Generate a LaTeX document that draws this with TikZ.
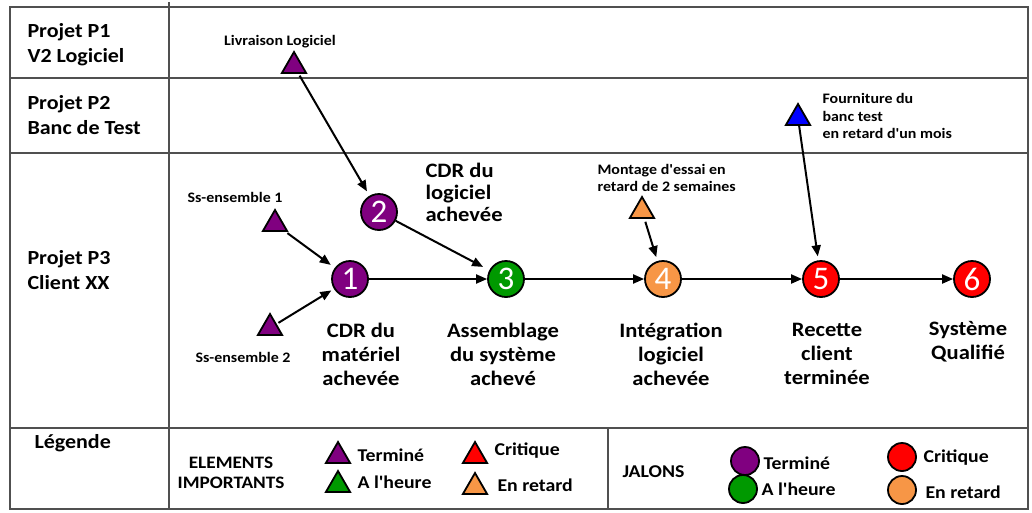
\documentclass[tikz,border=0pt]{standalone}
\usepackage{fontspec}
\setmainfont{Carlito}[Ligatures=TeXOff, FakeStretch=1.1]
\newfontfamily\digitfont{Carlito}[Ligatures=TeXOff]
\usetikzlibrary{shapes.geometric,arrows.meta}
\definecolor{cpurple}{RGB}{128,0,128}
\definecolor{cgreen}{RGB}{0,153,0}
\definecolor{cred}{RGB}{255,0,0}
\definecolor{corange}{RGB}{247,150,70}
\definecolor{cblue}{RGB}{0,0,255}
\definecolor{gridc}{RGB}{80,80,80}
\begin{document}
\begin{tikzpicture}[x=1pt,y=-1pt,
  grid/.style={draw=gridc, line width=1.3pt},
  ms/.style={circle, draw=black, line width=1.8pt, minimum size=36pt, inner sep=0pt, text=white, font=\digitfont\fontsize{33}{33}\selectfont},
  tri/.style={regular polygon, regular polygon sides=3, draw=black, line width=1.8pt, minimum size=28pt, inner sep=0pt},
  lgc/.style={circle, draw=black, line width=1.8pt, minimum size=28pt, inner sep=0pt},
  arr/.style={-{Triangle[length=11pt,width=9pt]}, line width=2pt},
  rowlbl/.style={anchor=west, align=left, font=\bfseries\fontsize{20}{25}\selectfont},
  big/.style={align=center, font=\bfseries\fontsize{20.5}{24}\selectfont},
  small/.style={font=\bfseries\fontsize{14.5}{17.5}\selectfont},
  leg/.style={anchor=west, font=\bfseries\fontsize{18}{20}\selectfont}
]
\useasboundingbox (0,0) rectangle (1032,512);
% table
\draw[grid] (10,7) rectangle (1028,509);
\draw[grid] (10,78) -- (1028,78);
\draw[grid] (10,153) -- (1028,153);
\draw[grid] (10,428) -- (1028,428);
\draw[grid] (169,2) -- (169,509);
\draw[grid] (608,428) -- (608,509);
% row labels
\node[rowlbl] (r1) at (24,45) {Projet P1\\V2 Logiciel};
\node[rowlbl] (r2) at (24,115) {Projet P2\\Banc de Test};
\node[rowlbl] (r3) at (24,270) {Projet P3\\Client XX};
\node[rowlbl] (r4) at (31,443) {Légende};
% milestones
\node[ms, fill=cpurple] (c1) at (350,279) {1};
\node[ms, fill=cpurple] (c2) at (379,212) {2};
\node[ms, fill=cgreen]  (c3) at (506,279) {3};
\node[ms, fill=corange] (c4) at (663,279) {4};
\node[ms, fill=cred]    (c5) at (821,279) {5};
\node[ms, fill=cred]    (c6) at (972,279) {6};
% triangles
\node[tri, fill=cpurple] (tL) at (294,66) {};
\node[tri, fill=cpurple] (tS1) at (275,224) {};
\node[tri, fill=cpurple] (tS2) at (270,328) {};
\node[tri, fill=corange] (tM) at (642,211) {};
\node[tri, fill=cblue] (tB) at (798,118) {};
% small labels
\node[small] (lL) at (280,42) {Livraison Logiciel};
\node[small] (lS1) at (235,197) {Ss-ensemble 1};
\node[small] (lS2) at (243,357) {Ss-ensemble 2};
\node[small, anchor=west, align=left] (lM) at (594,178) {Montage d'essai en\\retard de 2 semaines};
\node[small, anchor=west, align=left] (lB) at (819,116) {Fourniture du\\banc test\\en retard d'un mois};
% milestone labels
\node[big] (m1) at (361,354) {CDR du\\matériel\\achevée};
\node[big] (m3) at (503,354) {Assemblage\\du système\\achevé};
\node[big, anchor=west, align=left, font=\bfseries\fontsize{20.5}{22}\selectfont] (m2) at (422,192) {CDR du\\logiciel\\achevée};
\node[big] (m4) at (671,354) {Intégration\\logiciel\\achevée};
\node[big] (m5) at (827,354) {Recette\\client\\terminée};
\node[big] (m6) at (968,342) {Système\\Qualifié};
% connectors
\draw[arr, shorten <=2pt, shorten >=5pt] (tL) -- (c2);
\draw[arr, shorten <=2pt, shorten >=5pt] (tS1) -- (c1);
\draw[arr, shorten <=2pt, shorten >=3pt] (tS2) -- (c1);
\draw[arr, shorten >=7pt] (c2) -- (c3);
\draw[arr] (c1) -- (c3);
\draw[arr] (c3) -- (c4);
\draw[arr] (c4) -- (c5);
\draw[arr] (c5) -- (c6);
\draw[arr, shorten <=3pt, shorten >=4pt] (tM) -- (c4);
\draw[arr, shorten <=0pt, shorten >=4pt] (tB) -- (c5);
% legend
\node[align=center, font=\bfseries\fontsize{17.5}{20}\selectfont] (le) at (231,473) {ELEMENTS\\IMPORTANTS};
\node[tri, fill=cpurple] (lt1) at (338,456) {};
\node[tri, fill=cgreen] (lt2) at (338,485) {};
\node[tri, fill=cred] (lt3) at (475,456) {};
\node[tri, fill=corange] (lt4) at (475,487) {};
\node[leg] (ltx1) at (354,455) {Terminé};
\node[leg] (ltx2) at (354,482) {A l'heure};
\node[leg] (ltx3) at (491,451) {Critique};
\node[leg] (ltx4) at (494,485) {En retard};
\node[anchor=west, font=\bfseries\fontsize{18}{20}\selectfont] (lj) at (619,472) {JALONS};
\node[lgc, fill=cpurple] (lc1) at (745,461) {};
\node[lgc, fill=cgreen] (lc2) at (743,489) {};
\node[lgc, fill=cred] (lc3) at (902,457) {};
\node[lgc, fill=corange] (lc4) at (902,490) {};
\node[leg] (lcx1) at (760,463) {Terminé};
\node[leg] (lcx2) at (758,489) {A l'heure};
\node[leg] (lcx3) at (920,458) {Critique};
\node[leg] (lcx4) at (922,492) {En retard};
\end{tikzpicture}
\end{document}
